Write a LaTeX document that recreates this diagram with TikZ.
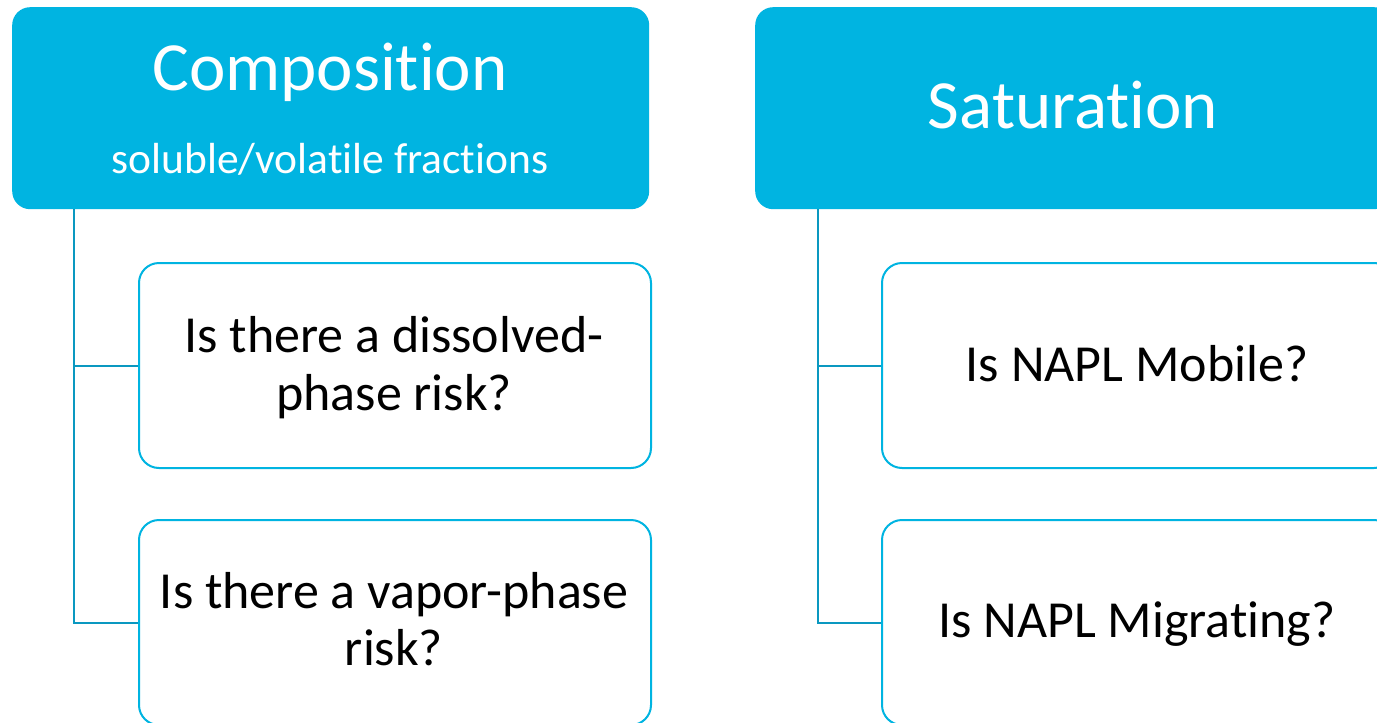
\documentclass[tikz,border=0pt]{standalone}
\usepackage{fontspec}
\setmainfont[RawFeature={-liga;-clig;-calt;-dlig;-rlig}]{Carlito}
\definecolor{hdr}{HTML}{00B4E1}
\definecolor{conncol}{HTML}{0A98C0}
\tikzset{
  hdrbox/.style={fill=hdr, draw=none, rounded corners=18pt, anchor=north west, inner sep=0pt},
  qbox/.style={fill=white, draw=hdr, line width=2pt, rounded corners=20pt, anchor=north west, inner sep=0pt},
  hdrtext/.style={text=white, anchor=base, inner sep=0pt, font=\fontsize{69}{80}\selectfont},
  subtext/.style={text=white, anchor=base, inner sep=0pt, font=\fontsize{43.5}{50}\selectfont},
  qtext/.style={text=black, anchor=base, inner sep=0pt, align=center, font=\fontsize{52}{58}\selectfont},
  conn/.style={draw=conncol, line width=2pt}
}
\begin{document}
\begin{tikzpicture}[x=1pt,y=-1pt]
\clip (0,0) rectangle (1377,723);
\fill[white] (0,0) rectangle (1377,723);
% header boxes
\node[hdrbox, minimum width=637pt, minimum height=202pt] (comp) at (12,7) {};
\node[hdrbox, minimum width=637pt, minimum height=202pt] (sat) at (755,7) {};
\node[hdrtext] (compT) at (330,90) {Composition};
\node[subtext] (compS) at (330,173) {soluble/volatile fractions};
\node[hdrtext] (satT) at (1073,128) {Saturation};
% question boxes
\node[qbox, minimum width=512pt, minimum height=205pt] (q1) at (138,262) {};
\node[qbox, minimum width=512pt, minimum height=205pt] (q2) at (138,519) {};
\node[qbox, minimum width=512pt, minimum height=205pt] (q3) at (881,262) {};
\node[qbox, minimum width=512pt, minimum height=205pt] (q4) at (881,519) {};
\node[qtext] (q1a) at (394,352) {Is there a dissolved-};
\node[qtext] (q1b) at (394,410) {phase risk?};
\node[qtext] (q2a) at (394,608) {Is there a vapor-phase};
\node[qtext] (q2b) at (394,665) {risk?};
\node[qtext] (q3a) at (1137,381) {Is NAPL Mobile?};
\node[qtext] (q4a) at (1137,637) {Is NAPL Migrating?};
% connectors
\coordinate (jL) at (74,0);
\coordinate (jR) at (818,0);
\draw[conn] (jL |- comp.south) |- (q2.west);
\draw[conn] (jL |- q1.west) -- (q1.west);
\draw[conn] (jR |- sat.south) |- (q4.west);
\draw[conn] (jR |- q3.west) -- (q3.west);
\end{tikzpicture}
\end{document}
